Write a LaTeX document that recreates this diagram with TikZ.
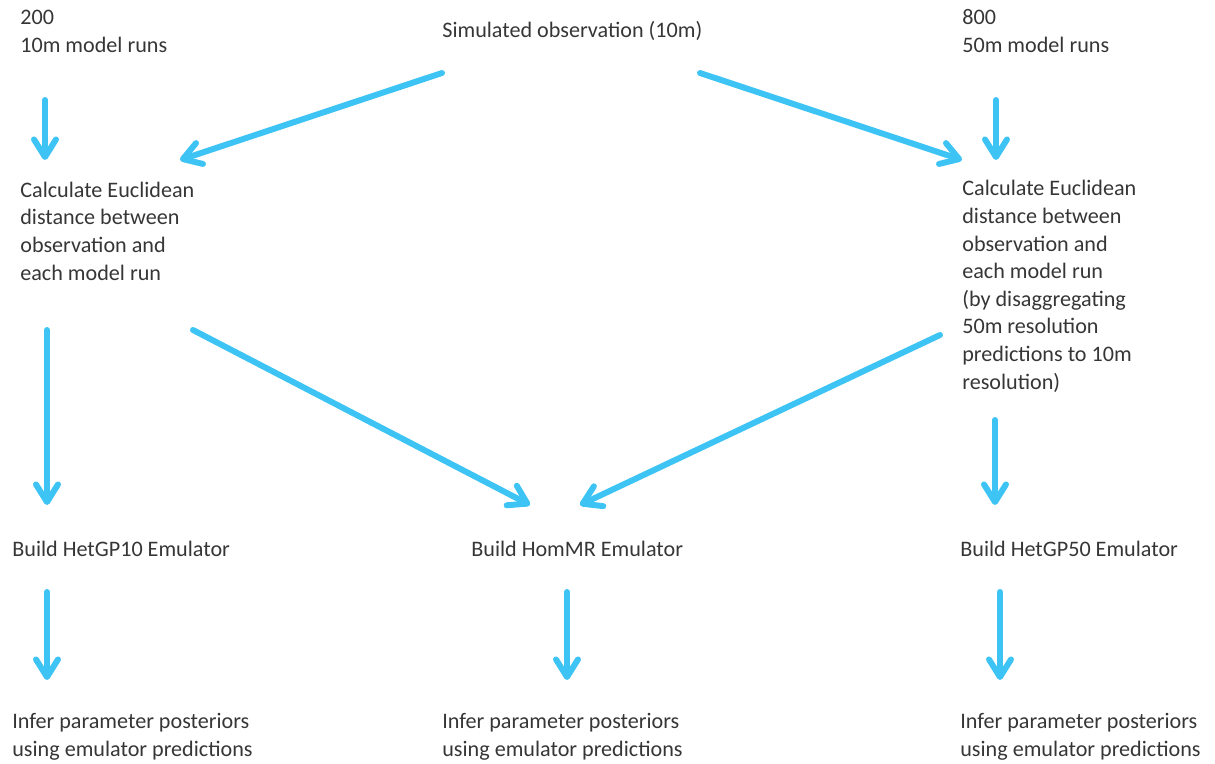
\documentclass[tikz,border=0pt]{standalone}
\usepackage{fontspec}
\setmainfont{Carlito}
\usepackage{xcolor}
\usepackage{tikz}
\usetikzlibrary{arrows.meta}
\definecolor{flowCyan}{HTML}{3EC4F4}
\definecolor{flowText}{HTML}{363636}

\begin{document}
\begin{tikzpicture}[x=0.02cm, y=-0.02cm,
  every node/.style={inner sep=0pt, anchor=base west, align=left, text=flowText, font=\fontsize{12.6}{15.7}\selectfont},
  flow/.style={-{Straight Barb[length=10pt, width=12.5pt, round]}, line width=3.4pt, line cap=round, flowCyan}]
\useasboundingbox (0,0) rectangle (1215,764);

% inputs (placed at the baseline of their last line)
\node (runs10) at (20,52) {200\\10m model runs};
\node (obs) at (442,37) {Simulated observation (10m)};
\node (runs50) at (962,52) {800\\50m model runs};

% distances
\node (distL) at (20,280) {Calculate Euclidean\\distance between\\observation and\\each model run};
\node (distR) at (962,389) {Calculate Euclidean\\distance between\\observation and\\each model run\\(by disaggregating\\50m resolution\\predictions to 10m\\resolution)};

% emulators
\node (het10) at (12,556) {Build HetGP10 Emulator};
\node (hom) at (471,556) {Build HomMR Emulator};
\node (het50) at (960,556) {Build HetGP50 Emulator};

% posteriors
\node (postL) at (12,756) {Infer parameter posteriors\\using emulator predictions};
\node (postM) at (442,756) {Infer parameter posteriors\\using emulator predictions};
\node (postR) at (960,756) {Infer parameter posteriors\\using emulator predictions};

\draw[flow] ([shift={(25,48)}]runs10.base west) -- ([shift={(25,-120)}]distL.base west);
\draw[flow] ([shift={(0,36)}]obs.base west) -- ([shift={(160,-120)}]distL.base west);
\draw[flow] ([shift={(258,36)}]obs.base west) -- ([shift={(0,-229)}]distR.base west);
\draw[flow] ([shift={(34,48)}]runs50.base west) -- ([shift={(34,-229)}]distR.base west);

\draw[flow] ([shift={(27,50)}]distL.base west) -- ([shift={(35,-51)}]het10.base west);
\draw[flow] ([shift={(173,50)}]distL.base west) -- ([shift={(59,-51)}]hom.base west);
\draw[flow] ([shift={(-22,-54)}]distR.base west) -- ([shift={(109,-51)}]hom.base west);
\draw[flow] ([shift={(33,31)}]distR.base west) -- ([shift={(35,-51)}]het50.base west);

\draw[flow] ([shift={(35,36)}]het10.base west) -- ([shift={(35,-76)}]postL.base west);
\draw[flow] ([shift={(96,36)}]hom.base west) -- ([shift={(125,-76)}]postM.base west);
\draw[flow] ([shift={(40,36)}]het50.base west) -- ([shift={(40,-76)}]postR.base west);
\end{tikzpicture}
\end{document}
